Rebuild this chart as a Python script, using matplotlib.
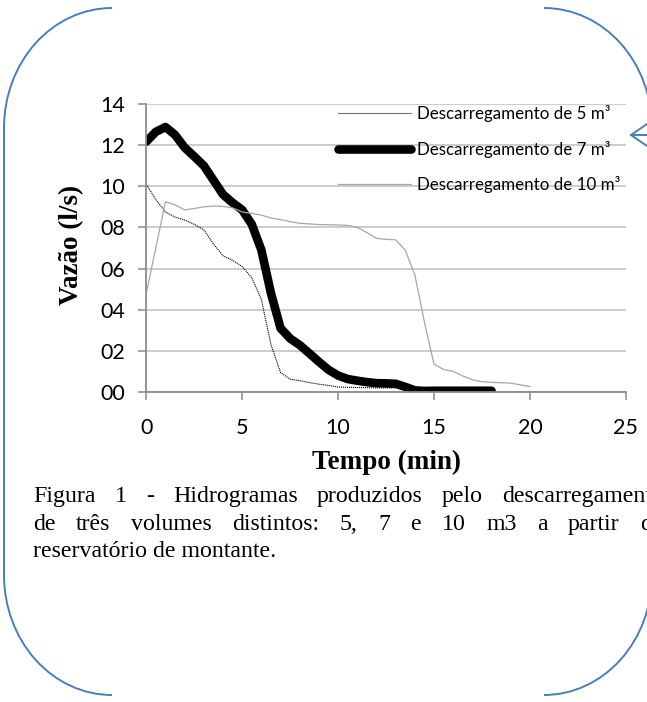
import matplotlib
matplotlib.use("Agg")
import matplotlib.pyplot as plt
from matplotlib.patches import Arc

# ---- data (time in min, flow in l/s) ----
T_5 = [0, 0.5, 1.0, 1.5, 2.0, 2.5, 3.0, 3.5, 4.0, 4.5, 5.0, 5.5, 6.0, 6.5,
       7.0, 7.5, 8.0, 8.5, 9.0, 9.5, 10.0, 11.0, 12.0, 13.0]
Q_5 = [10.1, 9.35, 8.75, 8.5, 8.36, 8.15, 7.88, 7.2, 6.62, 6.4, 6.1, 5.55,
       4.5, 2.3, 0.95, 0.62, 0.55, 0.46, 0.38, 0.32, 0.24, 0.22, 0.2, 0.2]

T_7 = [0, 0.5, 1.0, 1.5, 2.0, 2.5, 3.0, 3.5, 4.0, 4.5, 5.0, 5.5, 6.0, 6.5,
       7.0, 7.5, 8.0, 8.5, 9.0, 9.5, 10.0, 10.5, 11.0, 11.5, 12.0, 12.5,
       13.0, 13.5, 14.0, 14.5, 15, 16, 17, 18]
Q_7 = [12.17, 12.65, 12.88, 12.5, 11.88, 11.45, 11.0, 10.3, 9.6, 9.2, 8.85,
       8.15, 6.9, 4.8, 3.1, 2.6, 2.28, 1.88, 1.47, 1.08, 0.8, 0.63, 0.55,
       0.48, 0.43, 0.42, 0.40, 0.25, 0.08, 0.05, 0.06, 0.06, 0.06, 0.06]

T_10 = [0, 1.0, 1.5, 2.0, 2.5, 3.0, 3.5, 4.0, 4.5, 5.0, 5.5, 6.0, 6.5, 7.0,
        7.5, 8.0, 9.0, 10.0, 10.5, 11.0, 11.5, 12.0, 12.5, 13.0, 13.5, 14.0,
        14.5, 15.0, 15.5, 16.0, 16.5, 17.0, 17.5, 18.0, 18.5, 19.0, 19.5, 20.0]
Q_10 = [4.8, 9.25, 9.1, 8.85, 8.92, 9.0, 9.04, 9.02, 8.95, 8.75, 8.68, 8.6,
        8.46, 8.38, 8.28, 8.2, 8.14, 8.12, 8.1, 8.0, 7.75, 7.47, 7.42, 7.4,
        6.9, 5.7, 3.4, 1.35, 1.1, 1.0, 0.78, 0.6, 0.5, 0.47, 0.45, 0.43,
        0.35, 0.26]

LABELS = ["Descarregamento de 5 m³", "Descarregamento de 7 m³",
          "Descarregamento de 10 m³"]
XTICKS = [0, 5, 10, 15, 20, 25]
YTICKS = [0, 2, 4, 6, 8, 10, 12, 14]
YTICK_LABELS = ["00", "02", "04", "06", "08", "10", "12", "14"]

CAPTION_1 = "Figura 1 - Hidrogramas produzidos pelo descarregamento"
CAPTION_2 = "de três volumes distintos: 5, 7 e 10 m3 a partir do"
CAPTION_3 = "reservatório de montante."

W, H = 647, 702
GRID = "#bfbfbf"
AXC = "#8c8c8c"
BLUE = "#4a7ebb"
SANS = ["Lato", "DejaVu Sans"]
SERIF = ["Liberation Serif", "DejaVu Serif"]

fig = plt.figure(figsize=(W / 100, H / 100), dpi=100)

# chart area in pixel terms
x0, x1, ytop, ybot = 146.3, 625.8, 104, 392
ax = fig.add_axes([x0 / W, (H - ybot) / H, (x1 - x0) / W, (ybot - ytop) / H])
ax.plot(T_5, Q_5, color="black", lw=0.8, ls=(0, (1, 0.8)), label=LABELS[0])
ax.plot(T_7, Q_7, color="black", lw=6.2, solid_capstyle="round",
        solid_joinstyle="round", label=LABELS[1])
ax.plot(T_10, Q_10, color="#a6a6a6", lw=0.9, label=LABELS[2])
ax.set_xlim(0, 25)
ax.set_ylim(0, 14)
ax.set_xticks(XTICKS)
ax.set_yticks(YTICKS)
ax.set_yticklabels(YTICK_LABELS)
ax.grid(axis="y", color=GRID, lw=1.1)
ax.set_axisbelow(True)
for s in ("top", "right"):
    ax.spines[s].set_visible(False)
for s in ("left", "bottom"):
    ax.spines[s].set_color(AXC)
    ax.spines[s].set_linewidth(1.3)
ax.tick_params(axis="both", direction="out", length=6, width=1.1, color=AXC,
               labelsize=15.5, labelcolor="black")
ax.tick_params(axis="x", pad=13)
ax.tick_params(axis="y", pad=9)
for lab in ax.get_xticklabels() + ax.get_yticklabels():
    lab.set_family(SANS)

leg = ax.legend(loc="upper left", bbox_to_anchor=((331 - x0) / (x1 - x0), 1.02),
                frameon=False, handlelength=4.3,
                handletextpad=0.35, labelspacing=1.1, borderaxespad=0,
                prop={"family": SANS, "size": 12.2})

fig.text(72 / W, 1 - 245 / H, "Vazão (l/s)", rotation=90, ha="center",
         va="center", fontsize=19.5, fontweight="bold", family=SERIF)
fig.text(386 / W, 1 - 462 / H, "Tempo (min)", ha="center", va="center",
         fontsize=19.5, fontweight="bold", family=SERIF)

# overlay in pixel coordinates (y up) for frame and caption
ov = fig.add_axes([0, 0, 1, 1], zorder=-1)
ov.set_xlim(0, W)
ov.set_ylim(0, H)
ov.axis("off")

rx, ry = 108, 120
for cx, cy, t1, t2 in [(112, H - 128, 90, 180), (112, H - 575, 180, 270),
                       (544, H - 128, 0, 90), (544, H - 575, 270, 360)]:
    ov.add_patch(Arc((cx, cy), 2 * rx, 2 * ry, theta1=t1, theta2=t2,
                     color=BLUE, lw=1.4))
ov.plot([4, 4], [H - 128, H - 575], color=BLUE, lw=1.4)
# callout arrow entering from the right
ov.plot([647, 631, 647], [H - 124, H - 135, H - 146], color=BLUE, lw=1.4)
ov.plot([631, 647], [H - 135, H - 135], color=BLUE, lw=1.4)

# justified caption
renderer = fig.canvas.get_renderer()
CAP_SIZE = 17.2
LEFT, RIGHT = 33, 664


def place_line(text, y_px, justify):
    words = text.split()
    if not justify:
        ov.text(LEFT, H - y_px, text, fontsize=CAP_SIZE, family=SERIF,
                va="baseline", ha="left")
        return
    items = [ov.text(0, H - y_px, w, fontsize=CAP_SIZE, family=SERIF,
                     va="baseline", ha="left") for w in words]
    widths = [t.get_window_extent(renderer).width for t in items]
    gap = (RIGHT - LEFT - sum(widths)) / (len(words) - 1)
    x = LEFT
    for t, w in zip(items, widths):
        t.set_x(x)
        x += w + gap


place_line(CAPTION_1, 502, True)
place_line(CAPTION_2, 530, True)
place_line(CAPTION_3, 557, False)

fig.savefig("out.png", dpi=100)
